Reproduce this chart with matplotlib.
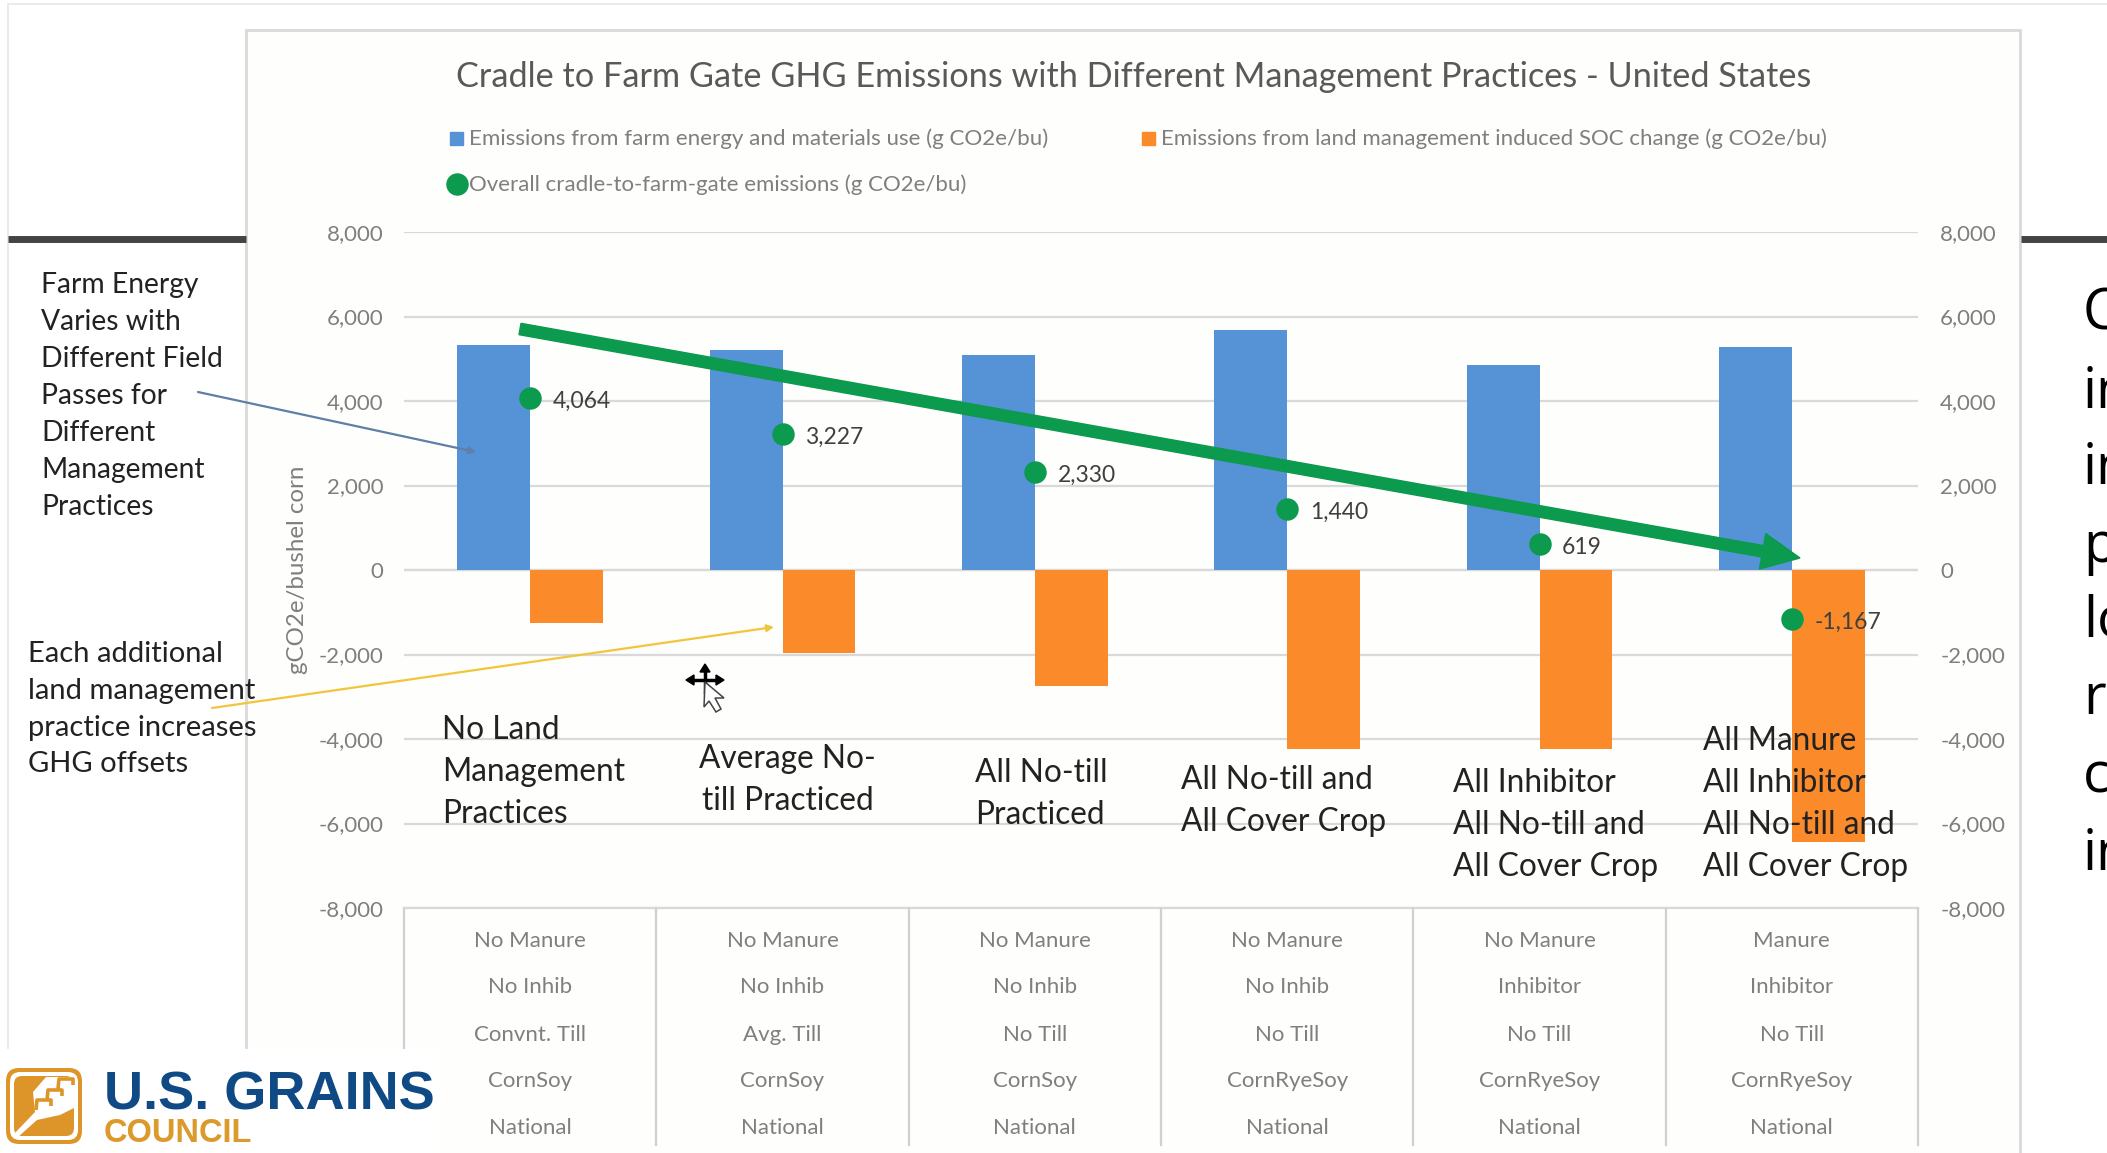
import matplotlib
matplotlib.use("Agg")
import matplotlib.pyplot as plt
from matplotlib.patches import Rectangle, FancyArrow, FancyBboxPatch, Polygon

W, H = 2107, 1153
categories = ["No Land\nManagement\nPractices", "Average No-\ntill Practiced", "All No-till\nPracticed",
              "All No-till and\nAll Cover Crop", "All Inhibitor\nAll No-till and\nAll Cover Crop",
              "All Manure\nAll Inhibitor\nAll No-till and\nAll Cover Crop"]
farm_energy = [5320, 5200, 5080, 5680, 4860, 5280]
soc_change = [-1256, -1973, -2750, -4240, -4241, -6447]
overall = [4064, 3227, 2330, 1440, 619, -1167]
ticks = [8000, 6000, 4000, 2000, 0, -2000, -4000, -6000, -8000]
manure = ["No Manure"] * 5 + ["Manure"]
inhib = ["No Inhib"] * 4 + ["Inhibitor"] * 2
till = ["Convnt. Till", "Avg. Till", "No Till", "No Till", "No Till", "No Till"]
rotation = ["CornSoy", "CornSoy", "CornSoy", "CornRyeSoy", "CornRyeSoy", "CornRyeSoy"]
region = ["National"] * 6
title = "Cradle to Farm Gate GHG Emissions with Different Management Practices - United States"
leg1 = "Emissions from farm energy and materials use (g CO2e/bu)"
leg2 = "Emissions from land management induced SOC change (g CO2e/bu)"
leg3 = "Overall cradle-to-farm-gate emissions (g CO2e/bu)"
note1 = ["Farm Energy", "Varies with", "Different Field", "Passes for", "Different", "Management", "Practices"]
note2 = ["Each additional", "land management", "practice increases", "GHG offsets"]
clipped = ["C", "in", "in", "p", "lo", "r", "c", "in"]

BLUE, ORANGE, GREEN = "#5593D6", "#FB8A2B", "#0B9A4E"
GRAY, DARK = "#7F7F7F", "#222222"
plt.rcParams["font.family"] = ["Lato", "DejaVu Sans"]

fig = plt.figure(figsize=(W / 100, H / 100), dpi=100, facecolor="white")
bg = fig.add_axes([0, 0, 1, 1], zorder=0)
bg.set_xlim(0, W); bg.set_ylim(H, 0); bg.axis("off")

# slide frame and card
bg.add_patch(Rectangle((8, 4), W, H, fc="white", ec="#E6E6E6", lw=1.2))
bg.plot([8, 246], [239, 239], color="#444444", lw=5, solid_capstyle="butt")
bg.plot([2021, W], [239, 239], color="#444444", lw=5, solid_capstyle="butt")
bg.add_patch(Rectangle((246, 30), 1774, H, fc="#FEFEFC", ec="#D9D9D9", lw=2))

# main chart
x0, x1, ytop, ybot = 404, 1918, 232, 908
ax = fig.add_axes([x0 / W, 1 - ybot / H, (x1 - x0) / W, (ybot - ytop) / H], zorder=1)
ax.patch.set_alpha(0)
xs = list(range(len(categories)))
bw = 0.288
ax.set_axisbelow(True)
ax.bar([x - bw / 2 for x in xs], farm_energy, bw, color=BLUE)
ax.bar([x + bw / 2 for x in xs], soc_change, bw, color=ORANGE)
ax.scatter(xs, overall, s=230, color=GREEN, zorder=3)
for x, v in zip(xs, overall):
    ax.text(x + 0.09, v - 80, f"{v:,}", fontsize=16.5, color="#404040", va="center", ha="left", zorder=4)
ax.set_xlim(-0.5, 5.5); ax.set_ylim(-8000, 8000)
ax.set_yticks(ticks)
ax.set_yticklabels([f"{t:,}" for t in ticks])
ax.set_xticks([])
ax.tick_params(axis="y", length=0, labelsize=16, labelcolor=GRAY, pad=15)
ax.grid(axis="y", color="#D9D9D9", lw=1.6)
for s in ax.spines.values():
    s.set_visible(False)
ax.axhline(0, color="#D9D9D9", lw=1.6, zorder=0.5)
ax.set_ylabel("gCO2e/bushel corn", fontsize=17.4, color=GRAY)
ax.yaxis.set_label_coords(-0.0635, 0.5)

# right axis
axr = ax.twinx()
axr.set_ylim(-8000, 8000)
axr.set_yticks(ticks)
axr.set_yticklabels([f"{t:,}" for t in ticks])
axr.tick_params(axis="y", length=0, labelsize=16, labelcolor=GRAY, pad=16)
for s in axr.spines.values():
    s.set_visible(False)

# data table under the axis
bg.plot([x0, x1], [ybot, ybot], color="#D9D9D9", lw=1.6)
cw = (x1 - x0) / 6
for i in range(7):
    bg.plot([x0 + i * cw] * 2, [ybot, 1145], color="#D0D0D0", lw=1.6)
for row, y in zip([manure, inhib, till, rotation, region], [941, 987, 1035, 1081, 1128]):
    for i, t in enumerate(row):
        bg.text(x0 + (i + .5) * cw, y, t, fontsize=16, color=GRAY, ha="center", va="center")

# titles and legend
bg.text(1134, 77, title, fontsize=24.7, color="#595959", ha="center", va="center")
bg.add_patch(Rectangle((450, 132), 13, 13, color=BLUE))
bg.text(469, 139, leg1, fontsize=16.1, color=GRAY, va="center")
bg.add_patch(Rectangle((1142, 132), 13, 13, color=ORANGE))
bg.text(1161, 139, leg2, fontsize=16.0, color=GRAY, va="center")
bg.scatter([457], [184], s=230, color=GREEN)
bg.text(469, 185, leg3, fontsize=16.0, color=GRAY, va="center")

# black overlay captions
ov = fig.add_axes([0, 0, 1, 1], zorder=3)
ov.set_xlim(0, W); ov.set_ylim(H, 0); ov.axis("off"); ov.patch.set_alpha(0)
for t, y in zip(note1, [285, 322, 359, 396, 433, 470, 507]):
    ov.text(41, y, t, fontsize=20.3, color=DARK, va="center")
for t, y in zip(note2, [654, 691, 728, 764]):
    ov.text(28, y, t, fontsize=21, color=DARK, va="center")
ov.annotate("", xy=(476, 452), xytext=(198, 392),
            arrowprops=dict(arrowstyle="-|>", color="#5F7FA8", lw=1.6, shrinkA=0, shrinkB=0))
ov.annotate("", xy=(774, 627), xytext=(212, 708),
            arrowprops=dict(arrowstyle="-|>", color="#F2C53D", lw=1.6, shrinkA=0, shrinkB=0))
places = [(442, 772, "left"), (699, 780, "center"), (975, 794, "left"),
          (1181, 801, "left"), (1453, 825, "left"), (1703, 804, "left")]
for (cx, cy, al), t in zip(places, categories):
    ov.text(cx, cy, t, fontsize=22.8, color=DARK, ha="left", va="center", linespacing=1.5, multialignment=al)

# big trend arrow
ov.add_patch(FancyArrow(520, 329, 1280, 229, width=11.5, head_width=36, head_length=38,
                        length_includes_head=True, color=GREEN, zorder=5))

# cursor
ov.plot([692, 718], [680, 680], color="black", lw=2.5)
ov.plot([705, 705], [668, 692], color="black", lw=2.5)
ov.add_patch(Polygon([(686, 680), (694, 675), (694, 685)], color="black"))
ov.add_patch(Polygon([(724, 680), (716, 675), (716, 685)], color="black"))
ov.add_patch(Polygon([(705, 664), (700, 672), (710, 672)], color="black"))
ov.add_patch(Polygon([(705, 682), (704, 707), (709, 701), (716, 712), (721, 709), (715, 698), (724, 698)],
                     fc="white", ec="#444444", lw=1.1, zorder=6))

# clipped side text
for t, y in zip(clipped, [315, 393, 470, 548, 622, 700, 778, 856]):
    ov.text(2083, y, t, fontsize=40, color="black", va="center", family="Open Sans")

# logo
ov.add_patch(Rectangle((0, 1049), 440, H - 1049, fc="white", ec="none"))
ov.add_patch(FancyBboxPatch((6, 1068), 76, 76, boxstyle="round,pad=0,rounding_size=13", fc="#DD952A", ec="none"))
ov.add_patch(FancyBboxPatch((10, 1072), 68, 68, boxstyle="round,pad=0,rounding_size=10", fc="white", ec="none"))
ov.add_patch(FancyBboxPatch((14, 1076), 60, 60, boxstyle="round,pad=0,rounding_size=8", fc="#DD952A", ec="none"))
ov.add_patch(Polygon([(14, 1134), (35, 1112), (33, 1092), (46, 1077), (74, 1077), (74, 1108), (60, 1115), (37, 1120), (18, 1137)],
                     fc="white", ec="none"))
for sx, sy in [(36, 1100), (47, 1090), (58, 1079)]:
    ov.plot([sx, sx + 1, sx + 15, sx + 15], [sy + 10, sy, sy, sy + 6], color="#DD952A", lw=2.6, solid_capstyle="butt")
ov.text(104, 1096, "U.S. GRAINS", fontsize=39, color="#0F4A85", fontweight="bold", va="center",
        family="Liberation Sans")
ov.text(104, 1134, "COUNCIL", fontsize=23.5, color="#DC9A2C", fontweight="bold", va="center",
        family="Liberation Sans")

fig.savefig("out.png", dpi=100)
